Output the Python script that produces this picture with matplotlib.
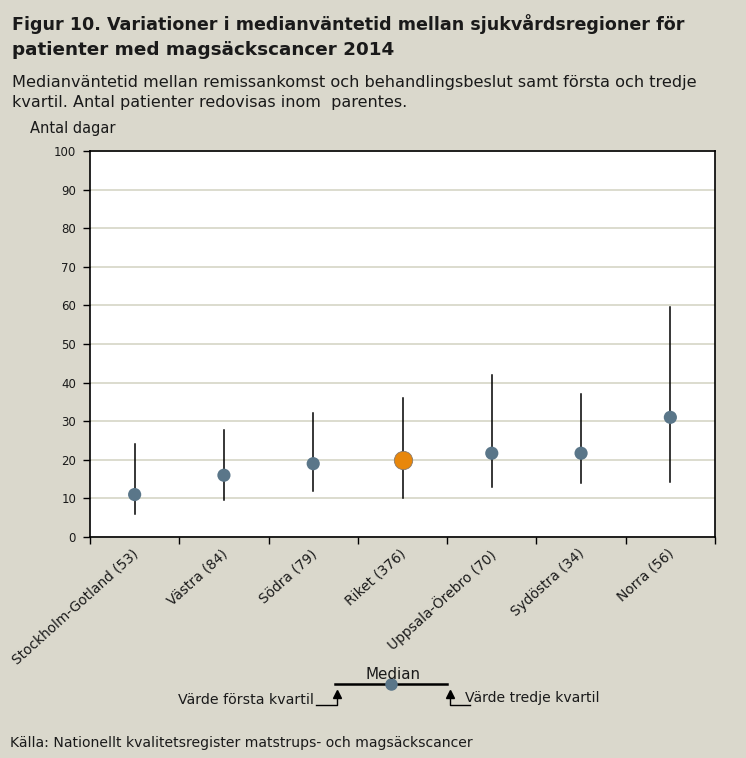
import matplotlib
matplotlib.use("Agg")
import matplotlib.pyplot as plt
from matplotlib.lines import Line2D
import numpy as np

plt.rcParams['font.family'] = ['DejaVu Sans']

categories = ["Stockholm-Gotland (53)", "Västra (84)", "Södra (79)", "Riket (376)",
              "Uppsala-Örebro (70)", "Sydöstra (34)", "Norra (56)"]
median = [11, 16, 19, 20, 21.7, 21.7, 31]
q1 = [6, 9.5, 12, 10, 13, 14, 14.2]
q3 = [24, 27.7, 32, 36, 42, 37, 59.5]
highlight = "Riket (376)"
yticks = list(range(0, 101, 10))

BG = "#DAD8CC"
DOT = "#5A7689"
ORANGE = "#E8870B"
GRID = "#D6D5C6"
TXT = "#1a1a1a"

W, H = 746, 758
fig = plt.figure(figsize=(W / 100, H / 100), dpi=100, facecolor=BG)
renderer = fig.canvas.get_renderer()


def fx(px):
    return px / W


def fy(py):
    return 1 - py / H


def fit_text(xp, yp, s, width_px, ha='left', **kw):
    t = fig.text(fx(xp), fy(yp), s, fontsize=10, ha=ha, **kw)
    w = t.get_window_extent(renderer).width
    t.set_fontsize(10 * width_px / w)
    return t


ax = fig.add_axes([90 / W, 1 - 537 / H, (715 - 90) / W, (537 - 151) / H])
ax.set_facecolor("white")

x = np.arange(len(categories))
for i, c in enumerate(categories):
    ax.plot([x[i], x[i]], [q1[i], q3[i]], color="black", lw=1.1, zorder=2)
    if c == highlight:
        ax.scatter(x[i], median[i], s=175, color=ORANGE, edgecolor="#8a7a6a", linewidth=0.6, zorder=3)
    else:
        ax.scatter(x[i], median[i], s=90, color=DOT, edgecolor="none", zorder=3)

ax.set_xlim(-0.5, len(categories) - 0.5)
ax.set_ylim(0, 100)
ax.set_yticks(yticks)
ax.set_yticklabels([str(v) for v in yticks], fontsize=8.5, color=TXT)
ax.yaxis.grid(True, color=GRID, lw=1.2)
ax.set_axisbelow(True)
ax.tick_params(axis='y', direction='out', length=5, width=1, pad=5)

ax.set_xticks(np.arange(-0.5, len(categories), 1.0))
ax.set_xticklabels([])
ax.tick_params(axis='x', direction='out', length=5, width=1)
for i, c in enumerate(categories):
    ax.annotate(c, xy=(x[i], 0), xycoords=('data', 'axes fraction'),
                xytext=(-2, -7), textcoords='offset points',
                rotation=42, ha='right', va='top', rotation_mode='anchor',
                fontsize=9.9, color=TXT)
for s in ax.spines.values():
    s.set_color("black")
    s.set_linewidth(1.2)

# Titles
fit_text(12, 30, "Figur 10. Variationer i medianväntetid mellan sjukvårdsregioner för",
         671, fontweight='bold', color=TXT)
fit_text(12, 55, "patienter med magsäckscancer 2014", 382, fontweight='bold', color=TXT)
fit_text(12, 87, "Medianväntetid mellan remissankomst och behandlingsbeslut samt första och tredje",
         685, color=TXT)
fit_text(12, 107, "kvartil. Antal patienter redovisas inom  parentes.", 394, color=TXT)
fit_text(30, 133, "Antal dagar", 86, color=TXT)

# Legend explanation
fig.add_artist(Line2D([fx(335), fx(447)], [fy(684), fy(684)], color="black", lw=1.8))
fig.add_artist(Line2D([fx(391)], [fy(684)], marker='o', markersize=8, color=DOT, lw=0))
fit_text(393, 679, "Median", 55, ha='center', color=TXT)
fig.add_artist(Line2D([fx(316), fx(337), fx(337)], [fy(705), fy(705), fy(694)], color="black", lw=1))
fig.add_artist(Line2D([fx(337)], [fy(694)], marker='^', markersize=6, color="black", lw=0))
fig.add_artist(Line2D([fx(470), fx(450), fx(450)], [fy(705), fy(705), fy(694)], color="black", lw=1))
fig.add_artist(Line2D([fx(450)], [fy(694)], marker='^', markersize=6, color="black", lw=0))
fit_text(314, 704, "Värde första kvartil", 135, ha='right', color=TXT)
fit_text(465, 702, "Värde tredje kvartil", 135, ha='left', color=TXT)

fit_text(10, 747, "Källa: Nationellt kvalitetsregister matstrups- och magsäckscancer", 460, color=TXT)

fig.savefig("out.png", dpi=100, facecolor=BG)
